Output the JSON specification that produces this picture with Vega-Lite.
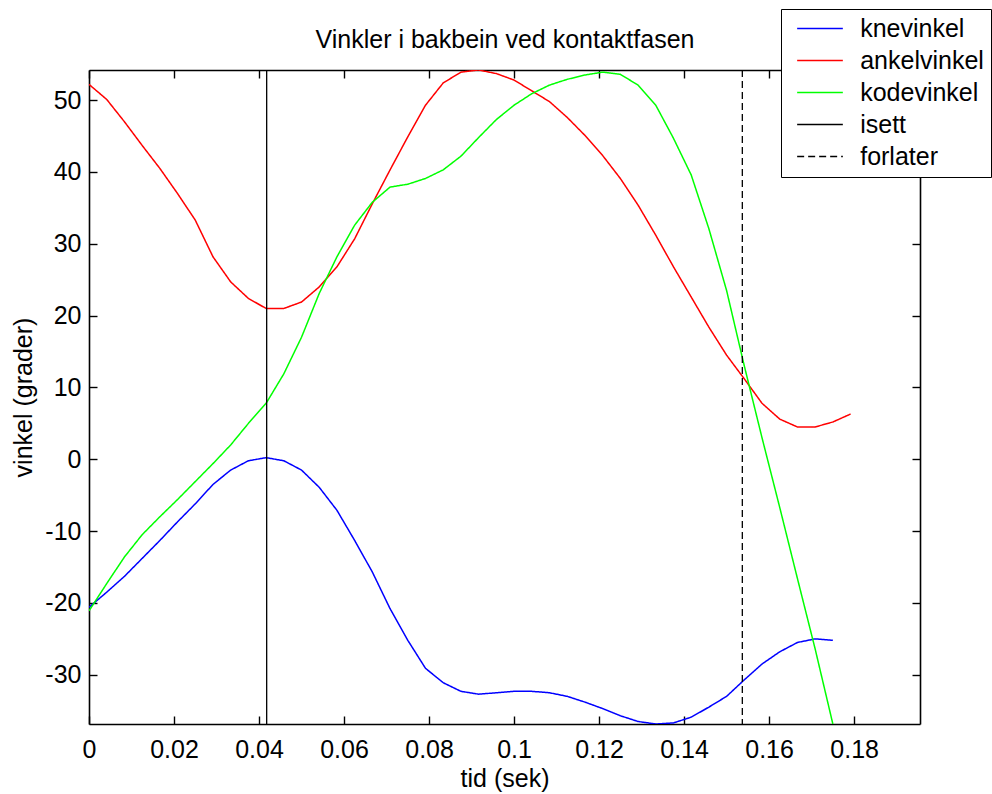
{
  "$schema": "https://vega.github.io/schema/vega-lite/v6.json",
  "width": 831,
  "height": 654,
  "autosize": {"type": "none"},
  "padding": {"left": 89, "top": 70, "right": 72, "bottom": 70},
  "background": "white",
  "datasets": {
    "curves": [
      {"t": 0, "knevinkel": -20.6, "ankelvinkel": 52.2, "kodevinkel": -21.1},
      {"t": 0.004167, "knevinkel": -18.5, "ankelvinkel": 50.1, "kodevinkel": -17.3},
      {"t": 0.008333, "knevinkel": -16.3, "ankelvinkel": 47.0, "kodevinkel": -13.6},
      {"t": 0.0125, "knevinkel": -13.8, "ankelvinkel": 43.7, "kodevinkel": -10.5},
      {"t": 0.016667, "knevinkel": -11.3, "ankelvinkel": 40.5, "kodevinkel": -8.0},
      {"t": 0.020833, "knevinkel": -8.7, "ankelvinkel": 37.0, "kodevinkel": -5.6},
      {"t": 0.025, "knevinkel": -6.2, "ankelvinkel": 33.3, "kodevinkel": -3.1},
      {"t": 0.029167, "knevinkel": -3.5, "ankelvinkel": 28.2, "kodevinkel": -0.6},
      {"t": 0.033333, "knevinkel": -1.5, "ankelvinkel": 24.7, "kodevinkel": 2.0},
      {"t": 0.0375, "knevinkel": -0.2, "ankelvinkel": 22.4, "kodevinkel": 5.0},
      {"t": 0.041667, "knevinkel": 0.23, "ankelvinkel": 21.0, "kodevinkel": 7.8},
      {"t": 0.045833, "knevinkel": -0.2, "ankelvinkel": 21.0, "kodevinkel": 11.9},
      {"t": 0.05, "knevinkel": -1.5, "ankelvinkel": 21.9, "kodevinkel": 17.0},
      {"t": 0.054167, "knevinkel": -3.9, "ankelvinkel": 24.0, "kodevinkel": 23.1},
      {"t": 0.058333, "knevinkel": -7.1, "ankelvinkel": 26.8, "kodevinkel": 28.2},
      {"t": 0.0625, "knevinkel": -11.3, "ankelvinkel": 30.7, "kodevinkel": 32.6},
      {"t": 0.066667, "knevinkel": -15.7, "ankelvinkel": 35.6, "kodevinkel": 35.8},
      {"t": 0.070833, "knevinkel": -20.8, "ankelvinkel": 40.3, "kodevinkel": 37.9},
      {"t": 0.075, "knevinkel": -25.2, "ankelvinkel": 44.9, "kodevinkel": 38.3},
      {"t": 0.079167, "knevinkel": -29.1, "ankelvinkel": 49.3, "kodevinkel": 39.1},
      {"t": 0.083333, "knevinkel": -31.1, "ankelvinkel": 52.4, "kodevinkel": 40.3},
      {"t": 0.0875, "knevinkel": -32.3, "ankelvinkel": 53.9, "kodevinkel": 42.2},
      {"t": 0.091667, "knevinkel": -32.7, "ankelvinkel": 54.2, "kodevinkel": 44.8},
      {"t": 0.095833, "knevinkel": -32.5, "ankelvinkel": 53.7, "kodevinkel": 47.3},
      {"t": 0.1, "knevinkel": -32.3, "ankelvinkel": 52.8, "kodevinkel": 49.3},
      {"t": 0.104167, "knevinkel": -32.3, "ankelvinkel": 51.3, "kodevinkel": 50.9},
      {"t": 0.108333, "knevinkel": -32.5, "ankelvinkel": 49.8, "kodevinkel": 52.1},
      {"t": 0.1125, "knevinkel": -33.0, "ankelvinkel": 47.6, "kodevinkel": 52.9},
      {"t": 0.116667, "knevinkel": -33.8, "ankelvinkel": 45.1, "kodevinkel": 53.5},
      {"t": 0.120833, "knevinkel": -34.7, "ankelvinkel": 42.3, "kodevinkel": 53.9},
      {"t": 0.125, "knevinkel": -35.7, "ankelvinkel": 39.1, "kodevinkel": 53.6},
      {"t": 0.129167, "knevinkel": -36.5, "ankelvinkel": 35.4, "kodevinkel": 52.1},
      {"t": 0.133333, "knevinkel": -36.85, "ankelvinkel": 31.2, "kodevinkel": 49.3},
      {"t": 0.1375, "knevinkel": -36.7, "ankelvinkel": 26.8, "kodevinkel": 44.7},
      {"t": 0.141667, "knevinkel": -35.9, "ankelvinkel": 22.6, "kodevinkel": 39.6},
      {"t": 0.145833, "knevinkel": -34.5, "ankelvinkel": 18.4, "kodevinkel": 32.1},
      {"t": 0.15, "knevinkel": -33.0, "ankelvinkel": 14.5, "kodevinkel": 23.5},
      {"t": 0.154167, "knevinkel": -30.7, "ankelvinkel": 11.2, "kodevinkel": 13.0},
      {"t": 0.158333, "knevinkel": -28.5, "ankelvinkel": 7.8, "kodevinkel": 3.0},
      {"t": 0.1625, "knevinkel": -26.8, "ankelvinkel": 5.6, "kodevinkel": -6.7},
      {"t": 0.166667, "knevinkel": -25.5, "ankelvinkel": 4.5, "kodevinkel": -16.6},
      {"t": 0.170833, "knevinkel": -25.0, "ankelvinkel": 4.5, "kodevinkel": -26.4},
      {"t": 0.175, "knevinkel": -25.2, "ankelvinkel": 5.2, "kodevinkel": -36.85},
      {"t": 0.179167, "knevinkel": null, "ankelvinkel": 6.3, "kodevinkel": null}
    ],
    "events": [
      {"t": 0.0418, "serie": "isett"},
      {"t": 0.1537, "serie": "forlater"}
    ]
  },
  "config": {
    "font": "Liberation Sans",
    "view": {"stroke": null},
    "axis": {
      "grid": false,
      "domainColor": "black",
      "domainWidth": 1.6,
      "tickColor": "black",
      "tickWidth": 1.4,
      "tickSize": -8,
      "labelFont": "Liberation Sans",
      "labelFontSize": 25,
      "labelColor": "black",
      "titleFont": "Liberation Sans",
      "titleFontSize": 25,
      "titleFontWeight": "normal",
      "titleColor": "black"
    },
    "legend": {
      "orient": "none",
      "legendX": 692,
      "legendY": -61,
      "strokeColor": "black",
      "fillColor": "white",
      "padding": 7,
      "symbolOffset": 19.5,
      "symbolType": "M-2,0H2",
      "symbolSize": 522,
      "symbolStrokeWidth": 1.5,
      "labelFont": "Liberation Sans",
      "labelFontSize": 25,
      "labelColor": "black",
      "labelOffset": 27.7,
      "rowPadding": 6
    }
  },
  "layer": [
    {
      "data": {"name": "curves"},
      "transform": [
        {"fold": ["knevinkel", "ankelvinkel", "kodevinkel"], "as": ["serie", "v"]}
      ],
      "mark": {"type": "line", "strokeWidth": 1.5, "clip": true},
      "encoding": {
        "x": {
          "field": "t", "type": "quantitative",
          "scale": {"domain": [0, 0.1955], "nice": false, "zero": false},
          "axis": {"orient": "bottom", "title": "tid (sek)", "values": [0, 0.02, 0.04, 0.06, 0.08, 0.1, 0.12, 0.14, 0.16, 0.18], "format": "~g", "labelPadding": 21, "titlePadding": 4, "labelFlush": false}
        },
        "y": {
          "field": "v", "type": "quantitative",
          "scale": {"domain": [-36.85, 54.2], "nice": false, "zero": false},
          "axis": {"orient": "left", "title": "vinkel (grader)", "values": [-30, -20, -10, 0, 10, 20, 30, 40, 50], "labelExpr": "datum.value + ''", "labelPadding": 16, "titlePadding": 8}
        },
        "color": {
          "field": "serie", "type": "nominal",
          "scale": {"domain": ["knevinkel", "ankelvinkel", "kodevinkel", "isett", "forlater"], "range": ["#0000ff", "#ff0000", "#00ff00", "#000000", "#000000"]},
          "legend": {"title": null}
        },
        "strokeDash": {
          "field": "serie", "type": "nominal",
          "scale": {"domain": ["knevinkel", "ankelvinkel", "kodevinkel", "isett", "forlater"], "range": [[1, 0], [1, 0], [1, 0], [1, 0], [7, 4]]},
          "legend": {"title": null}
        }
      }
    },
    {
      "data": {"name": "events"},
      "mark": {"type": "rule", "strokeWidth": 1.3},
      "encoding": {
        "x": {"field": "t", "type": "quantitative", "axis": null},
        "color": {"field": "serie", "type": "nominal"},
        "strokeDash": {"field": "serie", "type": "nominal"}
      }
    },
    {
      "data": {"name": "curves"},
      "transform": [
        {"fold": ["knevinkel", "ankelvinkel", "kodevinkel"], "as": ["serie", "v"]}
      ],
      "mark": {"type": "line", "opacity": 0, "strokeWidth": 0},
      "encoding": {
        "x": {"field": "t", "type": "quantitative", "axis": {"orient": "top", "labels": false, "title": "Vinkler i bakbein ved kontaktfasen", "titlePadding": 17, "values": [0, 0.02, 0.04, 0.06, 0.08, 0.1, 0.12, 0.14, 0.16, 0.18]}},
        "y": {"field": "v", "type": "quantitative", "axis": {"orient": "right", "labels": false, "title": null, "values": [-30, -20, -10, 0, 10, 20, 30, 40, 50]}},
        "detail": {"field": "serie", "type": "nominal"}
      }
    }
  ],
  "resolve": {"axis": {"x": "independent", "y": "independent"}}
}
